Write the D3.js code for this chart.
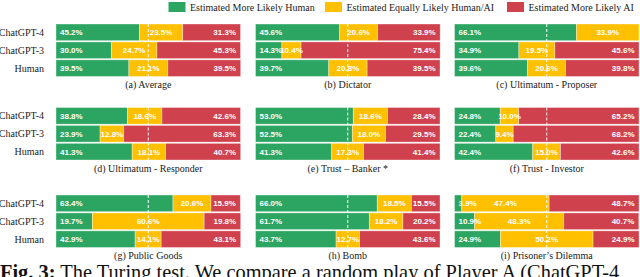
<!DOCTYPE html>
<html><head><meta charset="utf-8">
<script src="https://cdn.jsdelivr.net/npm/d3@7"></script>
<style>
html,body{margin:0;padding:0;background:#fff;overflow:hidden;}
svg{display:block;}
</style></head>
<body>
<svg id="chart" width="640" height="277"></svg>
<script>
const categories = ["ChatGPT-4", "ChatGPT-3", "Human"];
const panelTitles = ["(a) Average", "(b) Dictator", "(c) Ultimatum - Proposer",
  "(d) Ultimatum - Responder", "(e) Trust \u2013 Banker *", "(f) Trust - Investor",
  "(g) Public Goods", "(h) Bomb", "(i) Prisoner\u2019s Dilemma"];
const seriesNames = ["Estimated More Likely Human", "Estimated Equally Likely Human/AI", "Estimated More Likely AI"];
// per panel, values for [ChatGPT-4, ChatGPT-3, Human]
const moreHuman = [
  [45.2, 30.0, 39.5], [45.6, 14.3, 39.7], [66.1, 34.9, 39.6],
  [38.8, 23.9, 41.3], [53.0, 52.5, 41.3], [24.8, 22.4, 42.4],
  [63.4, 19.7, 42.9], [66.0, 61.7, 43.7], [3.9, 10.9, 24.9]];
const equallyLikely = [
  [23.5, 24.7, 21.1], [20.6, 10.4, 20.8], [33.9, 19.5, 20.6],
  [18.6, 12.8, 18.1], [18.6, 18.0, 17.3], [10.0, 9.4, 15.0],
  [20.6, 60.6, 14.1], [18.5, 18.2, 12.7], [47.4, 48.3, 50.2]];
const moreAI = [
  [31.3, 45.3, 39.5], [33.9, 75.4, 39.5], [0.0, 45.6, 39.8],
  [42.6, 63.3, 40.7], [28.4, 29.5, 41.4], [65.2, 68.2, 42.6],
  [15.9, 19.8, 43.1], [15.5, 20.2, 43.6], [48.7, 40.7, 24.9]];
const captionText = ["Fig. 3:", " The Turing test. We compare a random play of Player A (ChatGPT-4,"];

const colors = ["#2ca562", "#ffc000", "#d0414e"];
const svg = d3.select("#chart");
const serif = "'Liberation Serif','Times New Roman',serif";
const sans = "'Liberation Sans',Arial,sans-serif";

// legend
const legendX = [168.5, 325, 507];
seriesNames.forEach((name, i) => {
  svg.append("rect").attr("x", legendX[i]).attr("y", 2).attr("width", 17).attr("height", 10)
    .attr("fill", colors[i]);
  svg.append("text").attr("x", legendX[i] + 21.5).attr("y", 10.8)
    .attr("font-family", serif).attr("font-size", 10).attr("fill", "#222").text(name);
});

const colX = [56, 255.5, 454.5];
const colW = 184.5;
const rowY = [24, 107.5, 195];
const rowH = 52.5;

panelTitles.forEach((title, p) => {
  const c = p % 3, r = Math.floor(p / 3);
  const g = svg.append("g");
  const x = d3.scaleLinear().domain([0, 100]).range([colX[c], colX[c] + colW]);
  const y = d3.scaleBand().domain(categories).range([rowY[r], rowY[r] + rowH]).paddingInner(0.07).paddingOuter(0);
  const rows = categories.map((cat, i) => ({cat, vals: [moreHuman[p][i], equallyLikely[p][i], moreAI[p][i]]}));
  const stack = d3.stack().keys([0, 1, 2]).value((d, k) => d.vals[k]);
  const layers = stack(rows);
  layers.forEach((layer, k) => {
    g.selectAll(null).data(layer).enter().append("rect")
      .attr("x", d => x(d[0])).attr("y", d => y(d.data.cat))
      .attr("width", d => Math.max(0, x(d[1]) - x(d[0])))
      .attr("height", y.bandwidth())
      .attr("fill", colors[k])
      .attr("stroke", "rgba(255,255,255,0.45)").attr("stroke-width", 0.8);
  });
  // dashed 50% line
  g.append("line").attr("x1", x(50)).attr("x2", x(50))
    .attr("y1", y(categories[0])).attr("y2", y(categories[2]) + y.bandwidth())
    .attr("stroke", "#fff").attr("stroke-width", 1).attr("stroke-dasharray", "3,2");
  // value labels
  layers.forEach((layer, k) => {
    layer.forEach(d => {
      const v = d.data.vals[k];
      if (v <= 0) return;
      let tx, anchor;
      if (k === 0) { tx = x(d[0]) + 4; anchor = "start"; }
      else if (k === 1) { tx = (x(d[0]) + x(d[1])) / 2; anchor = "middle"; }
      else { tx = x(d[1]) - 4.5; anchor = "end"; }
      g.append("text").attr("x", tx).attr("y", y(d.data.cat) + y.bandwidth() / 2 + 2.9)
        .attr("text-anchor", anchor).attr("font-family", sans).attr("font-weight", "bold")
        .attr("font-size", 8).attr("fill", "#fff").text(v.toFixed(1) + "%");
    });
  });
  // y labels on first column
  if (c === 0) {
    categories.forEach(cat => {
      g.append("text").attr("x", 44).attr("y", y(cat) + y.bandwidth() / 2 + 3.4)
        .attr("text-anchor", "end").attr("font-family", serif).attr("font-size", 10)
        .attr("fill", "#222").text(cat);
    });
  }
  // caption
  g.append("text").attr("x", colX[c] + colW / 2).attr("y", rowY[r] + rowH + 11.5)
    .attr("text-anchor", "middle").attr("font-family", serif).attr("font-size", 10)
    .attr("fill", "#222").text(title);
});

// figure caption (cut at the bottom edge, as in the source page)
const cap = svg.append("text").attr("x", 0).attr("y", 279)
  .attr("font-family", serif).attr("font-size", 20.4).attr("fill", "#111");
cap.append("tspan").attr("font-weight", "bold").text(captionText[0]);
cap.append("tspan").text(captionText[1]);
</script>
</body></html>
